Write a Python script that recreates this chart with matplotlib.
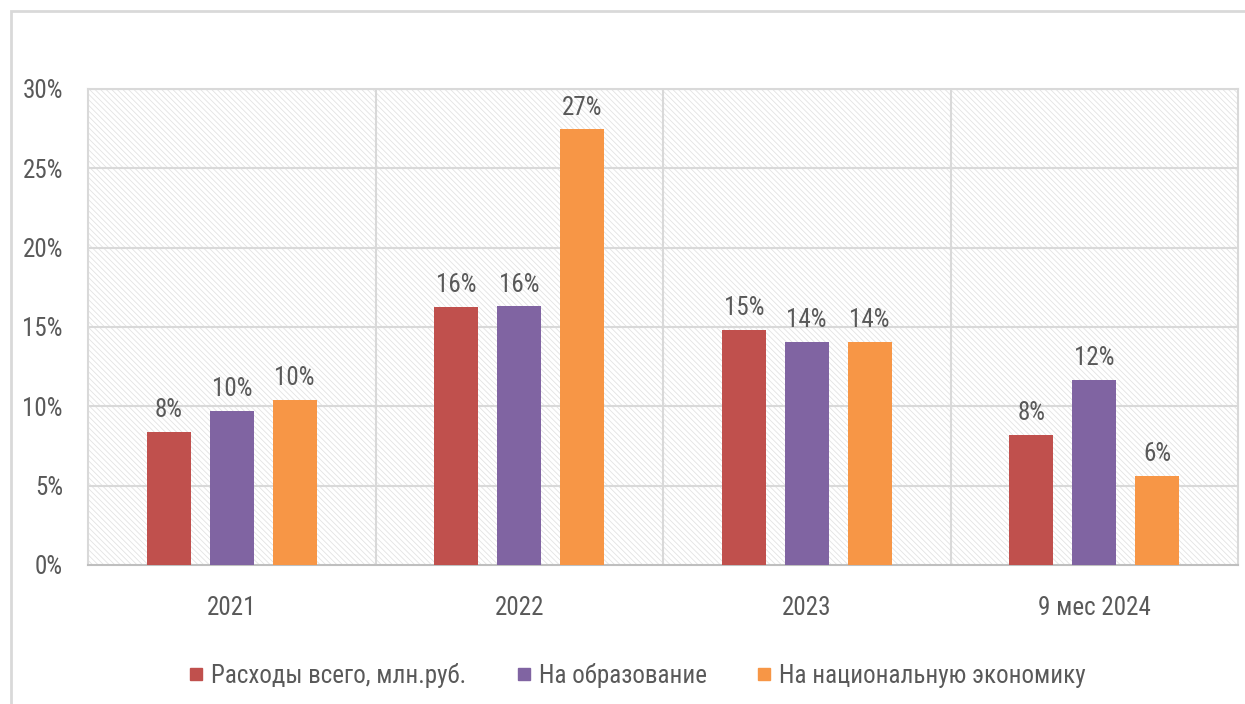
import numpy as np
import matplotlib.pyplot as plt
from matplotlib.patches import Rectangle
from matplotlib.lines import Line2D

plt.rcParams['font.family'] = ['Roboto Condensed', 'PT Sans Narrow', 'Carlito', 'Lato', 'DejaVu Sans']
plt.rcParams['hatch.linewidth'] = 0.6

# Данные
categories = ['2021', '2022', '2023', '9 мес 2024']
series_names = ['Расходы всего, млн.руб.', 'На образование', 'На национальную экономику']
total = [8.4, 16.25, 14.8, 8.2]
education = [9.7, 16.3, 14.05, 11.65]
economy = [10.4, 27.45, 14.05, 5.6]
labels_total = ['8%', '16%', '15%', '8%']
labels_education = ['10%', '16%', '14%', '12%']
labels_economy = ['10%', '27%', '14%', '6%']

colors = ['#C0504D', '#8064A2', '#F79646']
text_color = '#595959'
grid_color = '#D9D9D9'

fig = plt.figure(figsize=(12.45, 7.04), dpi=100)
ax = fig.add_axes([88 / 1245, 1 - 565 / 704, 1150 / 1245, 476 / 704])

# рамка всего рисунка
fig.patches.append(Rectangle((11 / 1245, -0.1), 1.2, 1 - 11 / 704 + 0.1,
                             transform=fig.transFigure, fill=False,
                             edgecolor=grid_color, linewidth=2))

# штрихованный фон области построения
ax.add_patch(Rectangle((0, 0), 1, 1, transform=ax.transAxes, facecolor='white',
                       edgecolor='#E3E3E3', hatch='\\' * 6, linewidth=0, zorder=0))

x = np.arange(len(categories))
width = 0.153
step = 0.219
all_series = [(total, labels_total), (education, labels_education), (economy, labels_economy)]
for i, (vals, labs) in enumerate(all_series):
    pos = x + (i - 1) * step
    ax.bar(pos, vals, width, color=colors[i], zorder=3, label=series_names[i])
    for px, v, t in zip(pos, vals, labs):
        ax.annotate(t, (px, v), xytext=(0, 7), textcoords='offset points',
                    ha='center', va='bottom', fontsize=18, color=text_color, zorder=4)

ax.set_xlim(-0.5, len(categories) - 0.5)
ax.set_ylim(0, 30)
ax.set_yticks(np.arange(0, 31, 5))
ax.set_yticklabels([f'{v}%' for v in range(0, 31, 5)])
ax.set_xticks(x)
ax.set_xticklabels(categories)
ax.tick_params(axis='both', length=0, labelsize=18, labelcolor=text_color)
ax.tick_params(axis='y', pad=18)
ax.tick_params(axis='x', pad=22)

for yv in range(5, 31, 5):
    ax.axhline(yv, color=grid_color, linewidth=1.5, zorder=1)
for xv in [0.5, 1.5, 2.5]:
    ax.axvline(xv, color=grid_color, linewidth=1.5, zorder=1)
for s in ax.spines.values():
    s.set_color(grid_color)
    s.set_linewidth(1.5)
ax.spines['bottom'].set_color('#BFBFBF')

handles = [Line2D([], [], marker='s', linestyle='', markersize=9, color=c) for c in colors]
fig.legend(handles, series_names, loc='center', bbox_to_anchor=(0.512, 1 - 675 / 704),
           ncol=3, frameon=False, fontsize=18, labelcolor=text_color,
           handlelength=0.6, handletextpad=0.3, columnspacing=2.0)

fig.savefig('out.png', dpi=100)
